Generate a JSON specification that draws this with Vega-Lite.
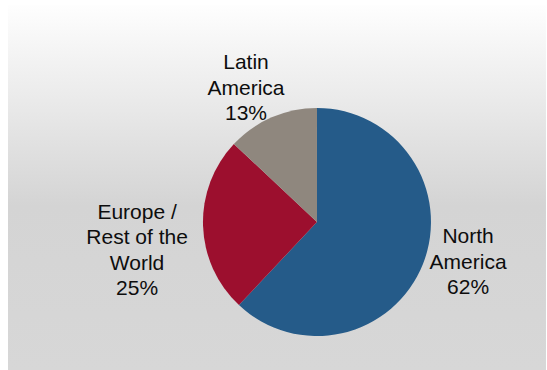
{
  "$schema": "https://vega.github.io/schema/vega-lite/v6.json",
  "width": 547,
  "height": 370,
  "autosize": {"type": "fit", "contains": "padding"},
  "padding": {"left": 8, "top": 5, "right": 1, "bottom": 0},
  "background": "white",
  "config": {"view": {"stroke": null}},
  "data": {
    "values": [
      {"region": "North America", "label": "North\nAmerica", "share": 62},
      {"region": "Europe / Rest of the World", "label": "Europe /\nRest of the\nWorld", "share": 25},
      {"region": "Latin America", "label": "Latin\nAmerica", "share": 13}
    ]
  },
  "transform": [
    {"calculate": "datum.label + '\\n' + datum.share + '%'", "as": "text"}
  ],
  "layer": [
    {
      "data": {"values": [{"panel": "background"}]},
      "mark": {
        "type": "rect",
        "fill": {
          "gradient": "linear",
          "x1": 0, "y1": 0, "x2": 0, "y2": 1,
          "stops": [
            {"offset": 0, "color": "#fefefe"},
            {"offset": 0.55, "color": "#d4d4d4"},
            {"offset": 1, "color": "#d7d7d7"}
          ]
        }
      },
      "encoding": {}
    },
    {
      "mark": {
        "type": "arc",
        "outerRadius": 114,
        "x": {"expr": "width * 0.5743"},
        "y": {"expr": "height * 0.5945"}
      },
      "encoding": {
        "theta": {"field": "share", "type": "quantitative", "stack": true},
        "order": {"field": "share", "sort": "descending"},
        "color": {
          "field": "region",
          "type": "nominal",
          "scale": {
            "domain": ["North America", "Europe / Rest of the World", "Latin America"],
            "range": ["#255b89", "#9c0f2e", "#8f877e"]
          },
          "legend": null
        }
      }
    },
    {
      "mark": {
        "type": "text",
        "font": "Liberation Sans",
        "fontSize": 21,
        "lineBreak": "\n",
        "lineHeight": 25.5,
        "align": "center",
        "baseline": "middle",
        "color": "#0d0d0d",
        "x": {"expr": "width * 0.5743"},
        "y": {"expr": "height * 0.5945"},
        "radius": {"expr": "datum.share == 25 ? 181 : (datum.share == 62 ? 155 : 151)"},
        "dx": {"expr": "datum.share == 25 ? 1 : (datum.share == 62 ? 7 : -11)"},
        "dy": {"expr": "datum.share == 25 ? -15 : (datum.share == 62 ? -42 : -20)"}
      },
      "encoding": {
        "theta": {"field": "share", "type": "quantitative", "stack": true},
        "order": {"field": "share", "sort": "descending"},
        "text": {"field": "text", "type": "nominal"}
      }
    }
  ]
}
